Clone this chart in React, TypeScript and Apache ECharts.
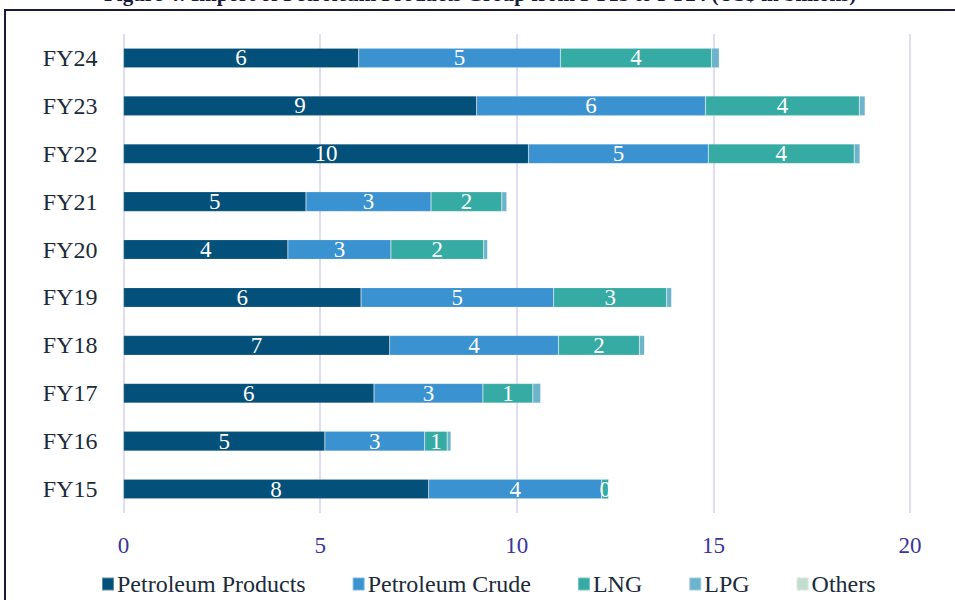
import React, { useEffect, useRef } from "react";
import * as echarts from "echarts";

const categories = ["FY15", "FY16", "FY17", "FY18", "FY19", "FY20", "FY21", "FY22", "FY23", "FY24"];
const petroleumProducts = [7.76, 5.12, 6.37, 6.77, 6.04, 4.18, 4.64, 10.3, 8.98, 5.98];
const petroleumCrude = [4.4, 2.54, 2.77, 4.29, 4.9, 2.62, 3.18, 4.57, 5.82, 5.13];
const lng = [0.18, 0.57, 1.27, 2.06, 2.87, 2.36, 1.8, 3.71, 3.91, 3.84];
const lpg = [0.0, 0.1, 0.2, 0.13, 0.13, 0.1, 0.13, 0.15, 0.15, 0.2];
const others = [0, 0, 0, 0, 0, 0, 0, 0, 0, 0];
const xTicks = [0, 5, 10, 15, 20];

const seriesNames = ["Petroleum Products", "Petroleum Crude", "LNG", "LPG", "Others"];
const seriesColors = ["#03507a", "#3a92d0", "#36aba3", "#6bb4cc", "#c2dccd"];
const seriesData = [petroleumProducts, petroleumCrude, lng, lpg, others];
const labelled = [true, true, true, false, false];

const FONT = "Liberation Serif";

export default function App() {
  const ref = useRef<HTMLDivElement>(null);
  useEffect(() => {
    if (!ref.current) return;
    const chart = echarts.init(ref.current, null, { renderer: "svg" });
    chart.setOption({
      animation: false,
      textStyle: { fontFamily: FONT },
      grid: { left: 123.5, right: 45, top: 34, bottom: 87, containLabel: false },
      legend: {
        left: 96,
        top: 567,
        icon: "rect",
        itemWidth: 12,
        itemHeight: 13,
        itemGap: 46,
        textStyle: { fontSize: 24, color: "#1c2b3a", fontFamily: FONT, padding: [0, 0, 0, -2] },
        data: seriesNames,
      },
      xAxis: {
        type: "value",
        min: xTicks[0],
        max: xTicks[xTicks.length - 1],
        interval: 5,
        axisLine: { show: false },
        axisTick: { show: false },
        axisLabel: { color: "#3a35a0", fontSize: 23, fontFamily: FONT, margin: 21 },
        splitLine: { show: true, lineStyle: { color: "#d6d0f2", width: 1.5 } },
      },
      yAxis: {
        type: "category",
        data: categories,
        axisLine: { show: false },
        axisTick: { show: false },
        axisLabel: { color: "#1c2b3a", fontSize: 24, fontFamily: FONT, margin: 26 },
      },
      series: seriesNames.map((name, i) => ({
        name,
        type: "bar",
        stack: "total",
        barWidth: "41%",
        data: seriesData[i],
        itemStyle: { color: seriesColors[i], borderColor: "rgba(255,255,255,0.35)", borderWidth: 0.5 },
        label: labelled[i]
          ? {
              show: true,
              position: "inside",
              color: "#ffffff",
              fontSize: 23,
              fontFamily: FONT,
              formatter: (p: any) => String(Math.round(p.value)),
            }
          : { show: false },
      })),
      graphic: [
        {
          type: "rect",
          shape: { x: 5, y: 10, width: 1000, height: 700 },
          style: { fill: "none", stroke: "#1a1a3a", lineWidth: 2 },
          silent: true,
        },
        {
          type: "text",
          x: 104,
          y: 4,
          style: {
            text: "Figure 4: Import of Petroleum Products Group from FY15 to FY24 (US$ in billions)",
            fontSize: 21,
            fontWeight: "bold",
            fontFamily: FONT,
            fill: "#1a1a3a",
            verticalAlign: "bottom",
          },
          silent: true,
        },
      ],
    });
    return () => chart.dispose();
  }, []);
  return <div ref={ref} style={{ position: "absolute", left: 0, top: 0, width: 955, height: 600 }} />;
}
